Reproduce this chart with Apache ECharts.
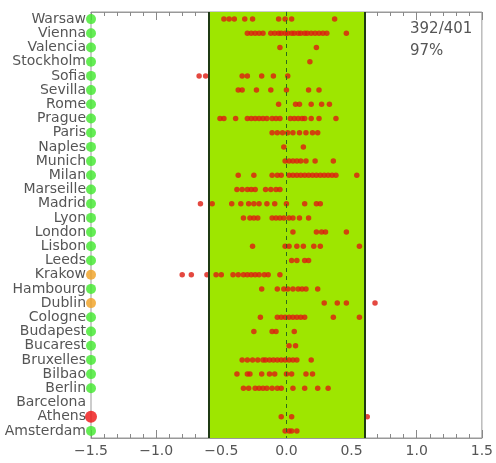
<!DOCTYPE html>
<html>
<head>
<meta charset="utf-8">
<script src="https://cdn.jsdelivr.net/npm/echarts@6/dist/echarts.min.js"></script>
<style>
  html, body { margin: 0; padding: 0; background: #fff; }
  #chart { width: 496px; height: 463px; }
</style>
</head>
<body>
<div id="chart"></div>
<script>
// Cities, listed top to bottom
const cities = ['Warsaw','Vienna','Valencia','Stockholm','Sofia','Sevilla','Rome','Prague','Paris','Naples',
  'Munich','Milan','Marseille','Madrid','Lyon','London','Lisbon','Leeds','Krakow','Hambourg',
  'Dublin','Cologne','Budapest','Bucarest','Bruxelles','Bilbao','Berlin','Barcelona','Athens','Amsterdam'];

// Status marker of each city (same order as cities)
const statuses = ['ok','ok','ok','ok','ok','ok','ok','ok','ok','ok',
  'ok','ok','ok','ok','ok','ok','ok','ok','warn','ok',
  'warn','ok','ok','ok','ok','ok','ok','none','bad','ok'];

// Deviations per city
const warsaw    = [-0.48,-0.44,-0.40,-0.32,-0.26,-0.06,-0.01,0.04,0.37];
const vienna    = [-0.30,-0.27,-0.24,-0.21,-0.18,-0.12,-0.09,-0.06,-0.04,-0.01,0.01,0.04,0.06,0.09,0.11,0.14,0.16,0.19,0.22,0.25,0.28,0.31,0.46];
const valencia  = [-0.05,0.23];
const stockholm = [0.18];
const sofia     = [-0.67,-0.62,-0.34,-0.30,-0.19,-0.10,0.01];
const sevilla   = [-0.37,-0.34,-0.23,-0.12,0.00,0.17,0.25];
const rome      = [-0.06,0.07,0.10,0.19,0.27,0.33];
const prague    = [-0.51,-0.48,-0.39,-0.30,-0.27,-0.24,-0.21,-0.18,-0.15,-0.11,-0.08,-0.05,0.03,0.06,0.09,0.12,0.14,0.19,0.25,0.38];
const paris     = [-0.11,-0.07,-0.03,0.01,0.05,0.10,0.15,0.20,0.24];
const naples    = [-0.02,0.13];
const munich    = [-0.01,0.02,0.05,0.08,0.11,0.15,0.22,0.36];
const milan     = [-0.37,-0.25,-0.11,-0.07,-0.04,0.02,0.05,0.08,0.11,0.14,0.17,0.20,0.23,0.26,0.29,0.32,0.35,0.38,0.54];
const marseille = [-0.38,-0.34,-0.30,-0.27,-0.24,-0.16,-0.12,-0.08,-0.05];
const madrid    = [-0.66,-0.57,-0.42,-0.35,-0.29,-0.25,-0.21,-0.15,-0.09,0.00,0.14,0.23,0.26];
const lyon      = [-0.33,-0.28,-0.25,-0.22,-0.11,-0.08,-0.05,-0.02,0.02,0.05,0.10,0.17];
const london    = [0.05,0.23,0.27,0.30,0.46];
const lisbon    = [-0.26,-0.01,0.02,0.08,0.13,0.21,0.26,0.56];
const leeds     = [0.04,0.08,0.14,0.17];
const krakow    = [-0.80,-0.73,-0.61,-0.54,-0.50,-0.41,-0.37,-0.33,-0.30,-0.27,-0.24,-0.21,-0.17,-0.14,-0.05];
const hambourg  = [-0.19,-0.07,-0.02,0.01,0.05,0.09,0.12,0.15,0.24];
const dublin    = [0.29,0.39,0.46,0.68];
const cologne   = [-0.20,-0.07,-0.04,-0.01,0.02,0.05,0.08,0.11,0.14,0.36,0.56];
const budapest  = [-0.25,-0.11,-0.08,0.06];
const bucarest  = [0.02,0.07];
const bruxelles = [-0.34,-0.30,-0.26,-0.22,-0.18,-0.16,-0.13,-0.10,-0.07,-0.04,-0.01,0.02,0.05,0.08,0.19];
const bilbao    = [-0.38,-0.30,-0.28,-0.19,-0.13,-0.09,0.00,0.04,0.15,0.20];
const berlin    = [-0.33,-0.29,-0.24,-0.21,-0.18,-0.15,-0.11,-0.07,-0.04,0.05,0.14,0.24,0.32];
const barcelona = [];
const athens    = [-0.04,0.04,0.62];
const amsterdam = [-0.01,0.02,0.04,0.08];

const deviations = [warsaw, vienna, valencia, stockholm, sofia, sevilla, rome, prague, paris, naples,
  munich, milan, marseille, madrid, lyon, london, lisbon, leeds, krakow, hambourg,
  dublin, cologne, budapest, bucarest, bruxelles, bilbao, berlin, barcelona, athens, amsterdam];

// Tolerance band and axis range
const bandLimit = 0.6;
const xTicks = [-1.5, -1.0, -0.5, 0.0, 0.5, 1.0, 1.5];
const summaryText = ['392/401', '97%'];

const statusColor = { ok: '#3fe82a', warn: '#f0a020', bad: '#ee1111' };

const points = [];
deviations.forEach((vals, i) => vals.forEach(v => points.push([v, cities[i]])));

const markers = [];
statuses.forEach((s, i) => {
  if (s === 'none') return;
  markers.push({
    value: [xTicks[0], cities[i]],
    symbolSize: s === 'bad' ? 12 : 10,
    itemStyle: { color: statusColor[s] }
  });
});

const font = 'DejaVu Sans';
const minus = v => v.toFixed(1).replace('-', '\u2212');

const chart = echarts.init(document.getElementById('chart'), null, { renderer: 'canvas' });
chart.setOption({
  animation: false,
  backgroundColor: '#fff',
  grid: { left: 91, right: 11, top: 12, bottom: 25, show: true, borderColor: '#999', borderWidth: 1, backgroundColor: 'transparent' },
  xAxis: [{
    type: 'value', position: 'bottom',
    min: xTicks[0], max: xTicks[xTicks.length - 1], interval: 0.5,
    axisLine: { show: true, lineStyle: { color: '#999' } },
    axisTick: { show: true, inside: true, length: 8, lineStyle: { color: '#888' } },
    minorTick: { show: true, splitNumber: 5, length: 4, lineStyle: { color: '#888' } },
    splitLine: { show: false },
    axisLabel: { color: '#555', fontFamily: font, fontSize: 14, margin: 6, formatter: minus }
  }, {
    type: 'value', position: 'top',
    min: xTicks[0], max: xTicks[xTicks.length - 1], interval: 0.5,
    axisLine: { show: true, lineStyle: { color: '#999' } },
    axisTick: { show: true, inside: true, length: 8, lineStyle: { color: '#888' } },
    minorTick: { show: true, splitNumber: 5, length: 4, lineStyle: { color: '#888' } },
    splitLine: { show: false },
    axisLabel: { show: false }
  }],
  yAxis: {
    type: 'category', inverse: true, data: cities,
    boundaryGap: true,
    axisLine: { show: true, lineStyle: { color: '#999' } },
    axisTick: { show: true, inside: true, length: 5, alignWithLabel: true, interval: 0, lineStyle: { color: '#888' } },
    splitLine: { show: false },
    axisLabel: { color: '#555', fontFamily: font, fontSize: 14, margin: 5, interval: 0, hideOverlap: false }
  },
  graphic: summaryText.map((t, i) => ({
    type: 'text', left: 410, top: 22 + i * 22,
    style: { text: t, fill: '#555', font: '15px "DejaVu Sans"' }
  })),
  series: [{
    // tolerance band with its edges and the zero line
    type: 'line', data: [], z: 1, silent: true,
    markArea: {
      silent: true,
      itemStyle: { color: '#9ee600' },
      data: [[{ xAxis: -bandLimit }, { xAxis: bandLimit }]]
    },
    markLine: {
      silent: true, symbol: 'none', label: { show: false },
      data: [
        { xAxis: -bandLimit, lineStyle: { color: '#1f3a14', width: 2, type: 'solid' } },
        { xAxis: bandLimit, lineStyle: { color: '#1f3a14', width: 2, type: 'solid' } },
        { xAxis: 0, lineStyle: { color: '#2c6a1c', width: 1, type: [4, 4] } }
      ]
    }
  }, {
    type: 'scatter', z: 3, data: points,
    symbol: 'circle', symbolSize: 5.5,
    itemStyle: { color: '#dd1a10' }
  }, {
    type: 'scatter', z: 4, data: markers, clip: false,
    symbol: 'circle'
  }]
});
</script>
</body>
</html>
